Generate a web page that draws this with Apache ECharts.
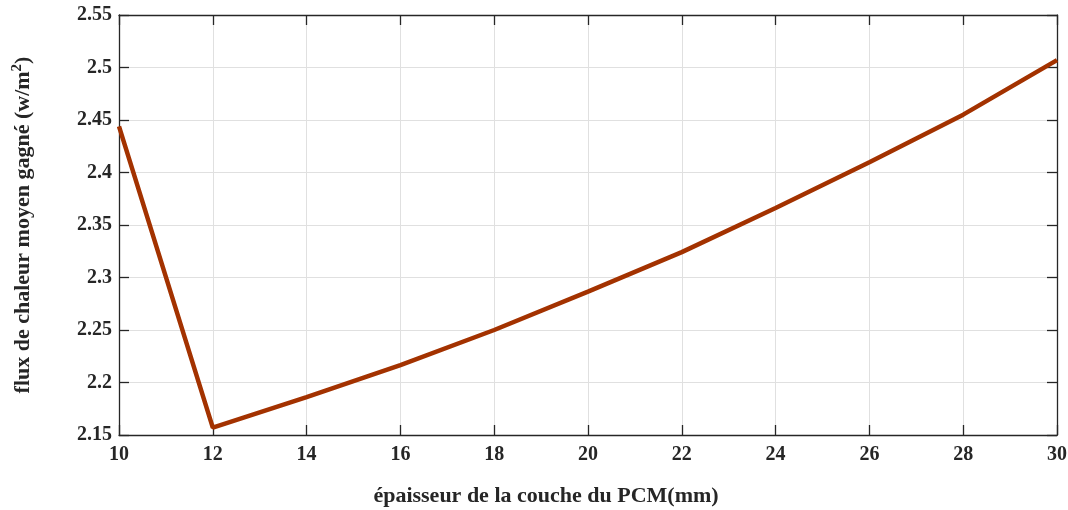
<!DOCTYPE html>
<html>
<head>
<meta charset="utf-8">
<script src="https://cdn.jsdelivr.net/npm/echarts@6/dist/echarts.min.js"></script>
<style>html,body{margin:0;padding:0;background:#fff}#c{width:1068px;height:510px}</style>
</head>
<body>
<div id="c"></div>
<script>
const thickness = [10, 12, 14, 16, 18, 20, 22, 24, 26, 28, 30];
const flux = [2.444, 2.157, 2.186, 2.2165, 2.250, 2.2866, 2.3242, 2.3662, 2.4097, 2.4551, 2.507];
const xTitle = 'épaisseur de la couche du PCM(mm)';
const yTitle = 'flux de chaleur moyen gagné (w/m{sup|2})';

const FONT = '"Liberation Serif", "Times New Roman", serif';
const axisLineStyle = { color: '#262626', width: 1.3 };
const chart = echarts.init(document.getElementById('c'), null, { renderer: 'canvas' });
const labelStyle = { fontFamily: FONT, fontWeight: 'bold', fontSize: 20, color: '#262626' };
const commonTick = { show: true, inside: true, length: 10, lineStyle: axisLineStyle };

chart.setOption({
  animation: false,
  backgroundColor: '#fff',
  grid: { left: 119, top: 15, right: 11, bottom: 75, containLabel: false, outerBoundsMode: 'none' },
  xAxis: [{
    type: 'value', min: 10, max: 30, interval: 2,
    axisLine: { show: true, onZero: false, lineStyle: axisLineStyle },
    axisTick: commonTick,
    axisLabel: Object.assign({ margin: 10 }, labelStyle),
    splitLine: { show: true, lineStyle: { color: '#e0e0e0', width: 1 } },
    name: xTitle, nameLocation: 'middle', nameGap: 50,
    nameTextStyle: { fontFamily: FONT, fontWeight: 'bold', fontSize: 22, color: '#262626', padding: [0, 84, 0, 0] }
  }, {
    type: 'value', position: 'top', min: 10, max: 30, interval: 2,
    axisLine: { show: true, onZero: false, lineStyle: axisLineStyle },
    axisTick: commonTick, axisLabel: { show: false }, splitLine: { show: false }
  }],
  yAxis: [{
    type: 'value', min: 2.15, max: 2.55, interval: 0.05,
    axisLine: { show: true, onZero: false, lineStyle: axisLineStyle },
    axisTick: commonTick,
    axisLabel: Object.assign({ margin: 7, formatter: v => String(parseFloat(v.toFixed(2))) }, labelStyle),
    splitLine: { show: true, lineStyle: { color: '#e0e0e0', width: 1 } },
    name: yTitle, nameLocation: 'middle', nameGap: 82, nameRotate: 90,
    nameTextStyle: {
      fontFamily: FONT, fontWeight: 'bold', fontSize: 22, color: '#262626',
      rich: { sup: { fontFamily: FONT, fontWeight: 'bold', fontSize: 15, color: '#262626', padding: [0, 0, 12, 0] } }
    }
  }, {
    type: 'value', position: 'right', min: 2.15, max: 2.55, interval: 0.05,
    axisLine: { show: true, onZero: false, lineStyle: axisLineStyle },
    axisTick: commonTick, axisLabel: { show: false }, splitLine: { show: false }
  }],
  series: [{
    type: 'line',
    data: thickness.map((x, i) => [x, flux[i]]),
    showSymbol: false, symbol: 'none',
    lineStyle: { color: '#a33200', width: 4.5 },
    itemStyle: { color: '#a33200' }
  }]
});
</script>
</body>
</html>
